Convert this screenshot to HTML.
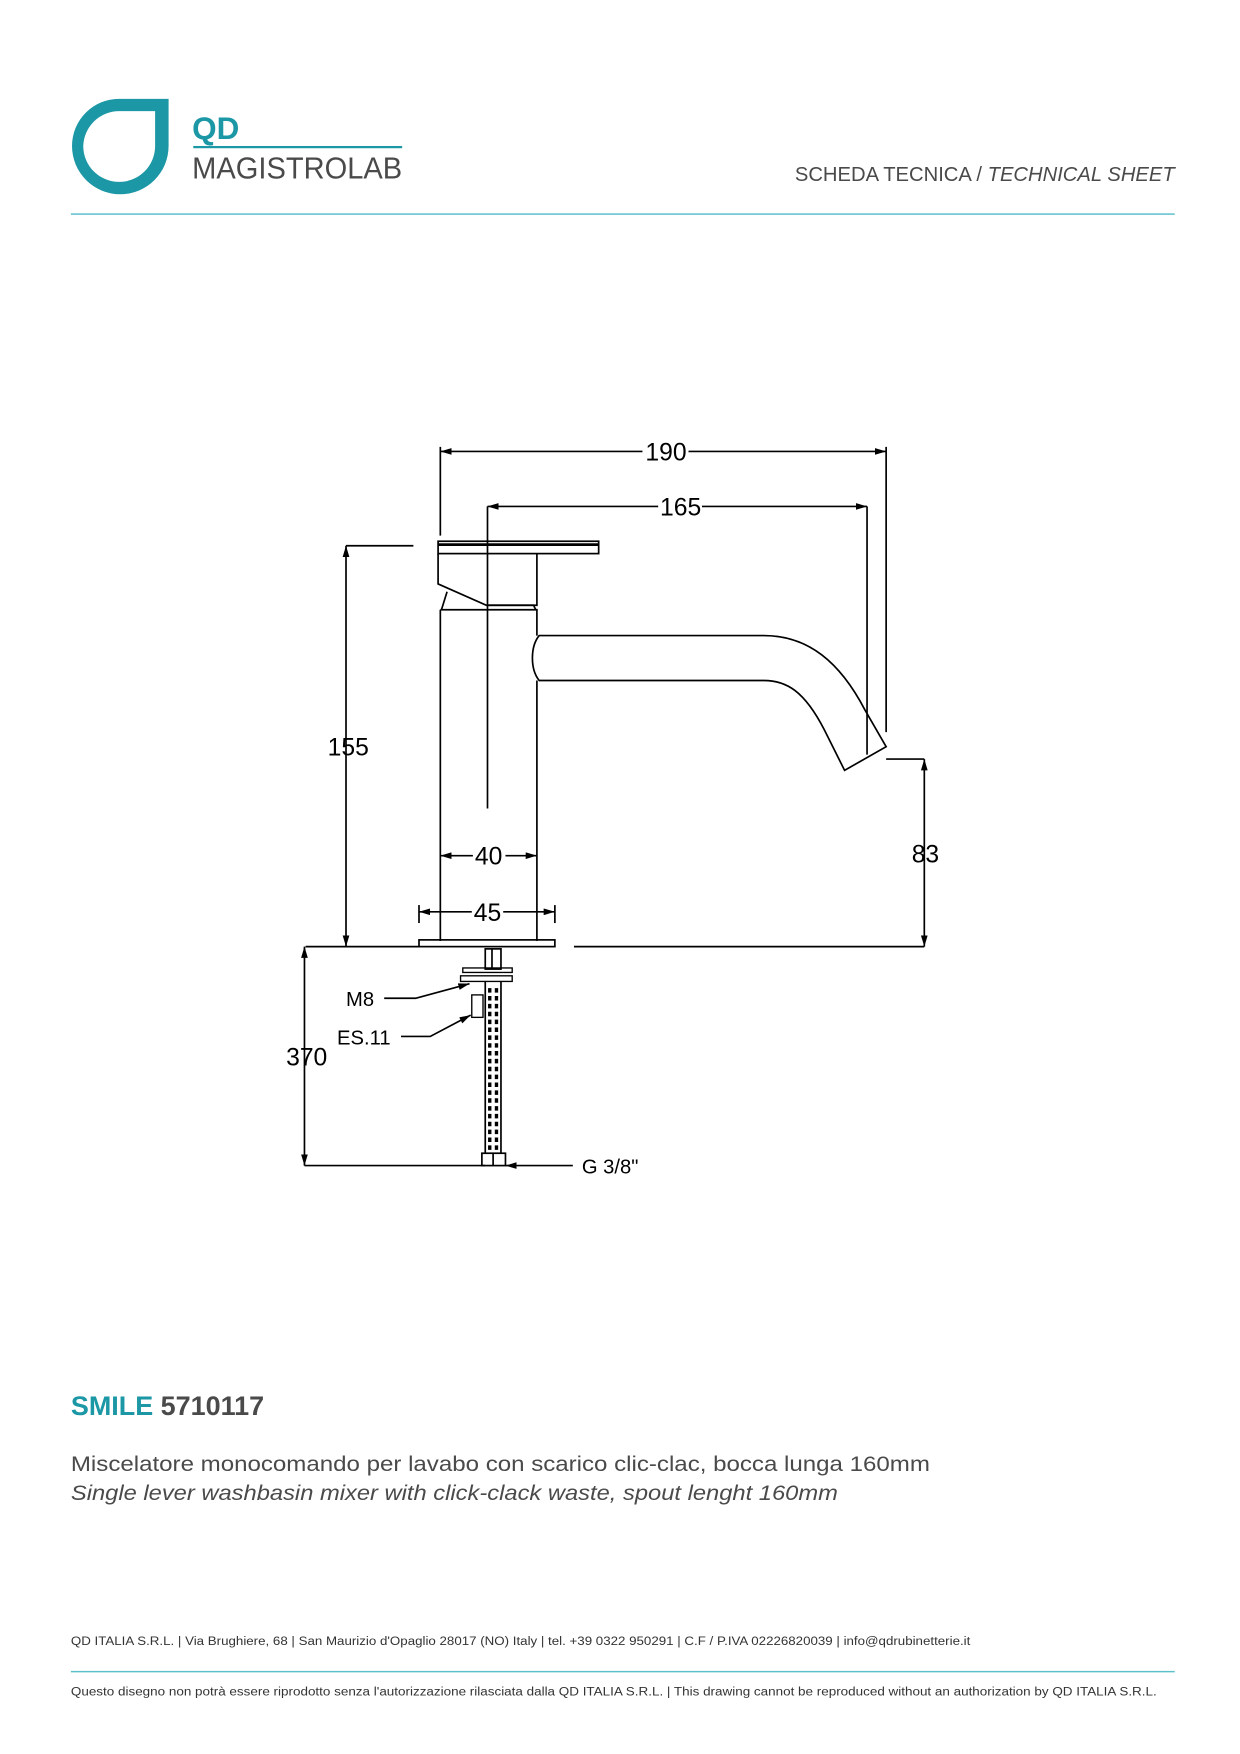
<!DOCTYPE html>
<html><head><meta charset="utf-8"><style>
html,body{margin:0;padding:0;background:#fff}
svg{display:block}
</style></head><body>
<svg width="1240" height="1754" viewBox="0 0 1104 1562" xmlns="http://www.w3.org/2000/svg" font-family="Liberation Sans, sans-serif">
<defs>
<marker id="a" viewBox="0 0 10 6" refX="10" refY="3" markerWidth="10" markerHeight="6" markerUnits="userSpaceOnUse" orient="auto-start-reverse"><path d="M0,0 L10,3 L0,6 z" fill="#000"/></marker>
</defs>
<!-- logo -->
<path d="M106,88 H150 V130 A43,43 0 1 1 64,130 A42,42 0 0 1 106,88 Z M106,99 A32,32 0 0 0 74,130 A32,32 0 1 0 138,130 V99 Z" fill="#1b97a5" fill-rule="evenodd"/>
<text x="171" y="124" font-size="28" font-weight="bold" fill="#1b97a5">QD</text>
<rect x="172" y="130" width="186" height="2" fill="#1b97a5"/>
<text x="171" y="159" font-size="27" fill="#4a4a4a" textLength="187" lengthAdjust="spacingAndGlyphs">MAGISTROLAB</text>
<text x="1046" y="161" font-size="18" fill="#4a4a4a" text-anchor="end">SCHEDA TECNICA / <tspan font-style="italic">TECHNICAL SHEET</tspan></text>
<rect x="63" y="190" width="983" height="1.3" fill="#5bbfcc"/>

<g stroke="#000" stroke-width="1.5" fill="none">
<line x1="392" y1="402" x2="572" y2="402" marker-start="url(#a)"/>
<line x1="613" y1="402" x2="789" y2="402" marker-end="url(#a)"/>
<line x1="392" y1="398" x2="392" y2="477"/>
<line x1="789" y1="398" x2="789" y2="652"/>
<line x1="434" y1="451" x2="586" y2="451" marker-start="url(#a)"/>
<line x1="625" y1="451" x2="772" y2="451" marker-end="url(#a)"/>
<line x1="434" y1="451" x2="434" y2="720"/>
<line x1="772" y1="451" x2="772" y2="672"/>
<line x1="308" y1="486" x2="368" y2="486"/>
<line x1="308" y1="486" x2="308" y2="843" marker-start="url(#a)" marker-end="url(#a)"/>
<line x1="392" y1="762" x2="421" y2="762" marker-start="url(#a)"/>
<line x1="450" y1="762" x2="478" y2="762" marker-end="url(#a)"/>
<line x1="373" y1="812" x2="420" y2="812" marker-start="url(#a)"/>
<line x1="448" y1="812" x2="494" y2="812" marker-end="url(#a)"/>
<line x1="373" y1="806" x2="373" y2="822"/>
<line x1="494" y1="806" x2="494" y2="822"/>
<line x1="789" y1="676" x2="823" y2="676"/>
<line x1="823" y1="676" x2="823" y2="843" marker-start="url(#a)" marker-end="url(#a)"/>
<line x1="272" y1="843" x2="373" y2="843"/>
<line x1="511" y1="843" x2="823" y2="843"/>
<line x1="271" y1="843" x2="271" y2="1038" marker-start="url(#a)" marker-end="url(#a)"/>
<line x1="271" y1="1038" x2="432" y2="1038"/>
<line x1="510" y1="1038" x2="450" y2="1038" marker-end="url(#a)"/>
<rect x="390" y="482" width="143" height="11"/>
<line x1="390" y1="485" x2="533" y2="485" stroke-width="2.5"/>
<path d="M390,493 V520 L433,539 H478 V493"/>
<path d="M398,527 L393,543 M433,539 L475,539 L477,543"/>
<path d="M392,543 H478 V566 M478,606 V838 M392,543 V838"/>
<path d="M480,566 H680 C720,566 748,590 770,632 L789,665 L752,686 L734,650 C716,615 700,606 680,606 H480 C472,596 472,576 480,566 Z"/>
<rect x="373" y="837" width="121" height="6"/>
<rect x="432" y="845" width="14" height="18"/>
<line x1="438" y1="845" x2="438" y2="863"/>
<rect x="412" y="862" width="44" height="4" stroke-width="1.2"/>
<rect x="410" y="869" width="46" height="5" stroke-width="1.2"/>
<rect x="420" y="886" width="10" height="20" stroke-width="1.2"/>
<path d="M432,874 V1027 M446,874 V1027" />
<path d="M436,880 v144 M442,880 v144" stroke-dasharray="4 3" stroke-width="3"/>
<rect x="429" y="1027" width="21" height="11"/>
<line x1="439" y1="1027" x2="439" y2="1038"/>
<path d="M342,889 H370 L418,876" marker-end="url(#a)"/>
<path d="M357,923 H383 L419,904" marker-end="url(#a)"/>
</g>
<g font-size="22" fill="#000" text-anchor="middle">
<text x="593" y="410">190</text>
<text x="606" y="459">165</text>
<text x="310" y="673">155</text>
<text x="435" y="770">40</text>
<text x="434" y="820">45</text>
<text x="824" y="768">83</text>
<text x="273" y="949">370</text>
</g>
<g font-size="18" fill="#000">
<text x="308" y="896">M8</text>
<text x="300" y="930">ES.11</text>
<text x="518" y="1045">G 3/8"</text>
</g>

<text x="63" y="1260" font-size="24" font-weight="bold" fill="#4a4a4a"><tspan fill="#1b97a5">SMILE</tspan> 5710117</text>
<text x="63" y="1310" font-size="19" fill="#4a4a4a" textLength="765" lengthAdjust="spacingAndGlyphs">Miscelatore monocomando per lavabo con scarico clic-clac, bocca lunga 160mm</text>
<text x="63" y="1336" font-size="19" font-style="italic" fill="#4a4a4a" textLength="683" lengthAdjust="spacingAndGlyphs">Single lever washbasin mixer with click-clack waste, spout lenght 160mm</text>
<text x="63" y="1465" font-size="11" fill="#333" textLength="801" lengthAdjust="spacingAndGlyphs">QD ITALIA S.R.L. | Via Brughiere, 68 | San Maurizio d'Opaglio 28017 (NO) Italy | tel. +39 0322 950291 | C.F / P.IVA 02226820039 | info@qdrubinetterie.it</text>
<rect x="63" y="1488" width="983" height="1.3" fill="#5bbfcc"/>
<text x="63" y="1510" font-size="11" fill="#333" textLength="967" lengthAdjust="spacingAndGlyphs">Questo disegno non potrà essere riprodotto senza l'autorizzazione rilasciata dalla QD ITALIA S.R.L. | This drawing cannot be reproduced without an authorization by QD ITALIA S.R.L.</text>
</svg>
</body></html>
